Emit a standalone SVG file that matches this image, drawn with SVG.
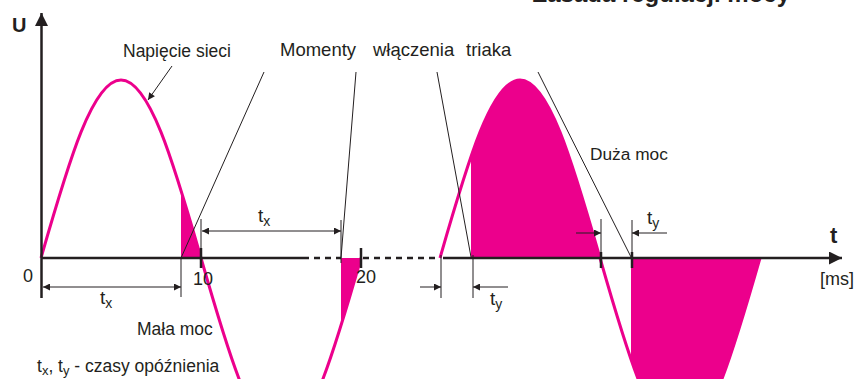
<svg xmlns="http://www.w3.org/2000/svg" width="864" height="379" viewBox="0 0 864 379">
<style>
.txt{font-family:"Liberation Sans",Arial,sans-serif;fill:#231f20}
.axis{stroke:#231f20;stroke-width:2.5;fill:none}
.thin{stroke:#231f20;stroke-width:1;fill:none}
.tick{stroke:#231f20;stroke-width:2.5;fill:none}
.wave{stroke:#ec008c;stroke-width:3;fill:none}
.fillp{fill:#ec008c}
.dim{stroke:#231f20;stroke-width:1;fill:none;marker-end:url(#ah)}
.dim2{stroke:#231f20;stroke-width:1;fill:none;marker-start:url(#ah);marker-end:url(#ah)}
</style>
<defs>
<marker id="ah" viewBox="0 0 10 10" refX="10" refY="5" markerWidth="8" markerHeight="7" markerUnits="userSpaceOnUse" orient="auto-start-reverse">
<path d="M0,0 L10,5 L0,10 z" fill="#231f20"/>
</marker>
<marker id="axh" viewBox="0 0 10 10" refX="10" refY="5" markerWidth="13" markerHeight="13" markerUnits="userSpaceOnUse" orient="auto">
<path d="M0,0 L10,5 L0,10 z" fill="#231f20"/>
</marker>
<clipPath id="c1"><rect x="181" y="0" width="20" height="258"/></clipPath>
<clipPath id="c2"><rect x="341" y="258" width="20" height="200"/></clipPath>
<clipPath id="c3"><rect x="471" y="0" width="129" height="258"/></clipPath>
<clipPath id="c4"><rect x="631" y="258" width="140" height="200"/></clipPath>
</defs>
<rect width="864" height="379" fill="#ffffff"/>

<text class="txt" x="790" y="2" font-size="24" font-weight="bold" text-anchor="end">Zasada regulacji mocy</text>

<g id="fills">
<path class="fillp" clip-path="url(#c1)" d="M41,258 C69.13,159.7 92.87,80 121,80 C149.13,80 172.87,159.7 201,258 Z"/>
<path class="fillp" clip-path="url(#c2)" d="M201,258 C229.13,356.3 252.87,436 281,436 C309.13,436 332.87,356.3 361,258 Z"/>
<path class="fillp" clip-path="url(#c3)" d="M440,258 C468.13,159.7 491.87,80 520,80 C548.13,80 571.87,159.7 600,258 Z"/>
<path class="fillp" clip-path="url(#c4)" d="M600,258 C628.13,356.3 651.87,436 680,436 C708.13,436 731.87,356.3 760,258 Z"/>
</g>

<g id="waves">
<path class="wave" d="M41,258 C69.13,159.7 92.87,80 121,80 C149.13,80 172.87,159.7 201,258 C229.13,356.3 252.87,436 281,436 C309.13,436 332.87,356.3 361,258"/>
<path class="wave" d="M440,258 C468.13,159.7 491.87,80 520,80 C548.13,80 571.87,159.7 600,258 C628.13,356.3 651.87,436 680,436 C708.13,436 731.87,356.3 760,258"/>
</g>

<g id="axes">
<line class="axis" x1="41.5" y1="298" x2="41.5" y2="13" marker-end="url(#axh)"/>
<line class="axis" x1="41" y1="258" x2="303" y2="258"/>
<line class="axis" x1="303" y1="258" x2="341" y2="258" stroke-dasharray="6,5"/>
<line class="axis" x1="363" y1="258" x2="440" y2="258" stroke-dasharray="6,5"/>
<line class="axis" x1="443" y1="258" x2="842" y2="258" marker-end="url(#axh)"/>
<line class="tick" x1="201" y1="248" x2="201" y2="268"/>
<line class="tick" x1="361" y1="248" x2="361" y2="268"/>
<line class="tick" x1="601" y1="252" x2="601" y2="268"/>
<line class="tick" x1="632" y1="252" x2="632" y2="268"/>
</g>

<g id="connectors">
<line class="thin" x1="264" y1="72" x2="181" y2="258"/>
<line class="thin" x1="356" y1="72" x2="341" y2="258"/>
<line class="thin" x1="437" y1="72" x2="471" y2="257"/>
<line class="thin" x1="538" y1="72" x2="631" y2="257"/>
<line class="dim" x1="172" y1="66" x2="148" y2="100"/>
</g>

<g id="dimensions">
<line class="thin" x1="181" y1="258" x2="181" y2="297"/>
<line class="dim2" x1="43" y1="287" x2="181" y2="287"/>
<line class="thin" x1="201" y1="219" x2="201" y2="250"/>
<line class="thin" x1="341" y1="220" x2="341" y2="263"/>
<line class="dim2" x1="202" y1="231" x2="341" y2="231"/>
<line class="thin" x1="441" y1="255" x2="441" y2="298"/>
<line class="thin" x1="473" y1="255" x2="473" y2="298"/>
<line class="dim" x1="420" y1="287" x2="441" y2="287"/>
<line class="dim" x1="508" y1="287" x2="473" y2="287"/>
<line class="thin" x1="601" y1="219" x2="601" y2="254"/>
<line class="thin" x1="632" y1="220" x2="632" y2="254"/>
<line class="dim" x1="576" y1="233" x2="601" y2="233"/>
<line class="dim" x1="667" y1="233" x2="632" y2="233"/>
</g>

<g id="labels">
<text class="txt" x="12" y="32" font-size="20" font-weight="bold">U</text>
<text class="txt" x="830" y="243" font-size="22" font-weight="bold">t</text>
<text class="txt" x="820" y="285" font-size="18">[ms]</text>
<text class="txt" x="23" y="282" font-size="18">0</text>
<text class="txt" x="193" y="285" font-size="18">10</text>
<text class="txt" x="356" y="283" font-size="18">20</text>
<text class="txt" x="123" y="57" font-size="17.5">Napięcie sieci</text>
<text class="txt" y="56" font-size="18.5"><tspan x="280">Momenty</tspan><tspan x="373">włączenia</tspan><tspan x="466">triaka</tspan></text>
<text class="txt" x="590" y="160" font-size="17.3">Duża moc</text>
<text class="txt" x="137" y="335" font-size="17.5">Mała moc</text>
<text class="txt" x="100" y="304" font-size="19">t<tspan font-size="14" dy="4">x</tspan></text>
<text class="txt" x="258" y="222" font-size="19">t<tspan font-size="14" dy="4">x</tspan></text>
<text class="txt" x="490" y="305" font-size="19">t<tspan font-size="14" dy="4">y</tspan></text>
<text class="txt" x="647" y="224" font-size="19">t<tspan font-size="14" dy="4">y</tspan></text>
<text class="txt" x="37" y="372" font-size="17.5">t<tspan font-size="13" dy="3">x</tspan><tspan dy="-3">, t</tspan><tspan font-size="13" dy="3">y</tspan><tspan dy="-3"> - czasy opóźnienia</tspan></text>
</g>
</svg>
